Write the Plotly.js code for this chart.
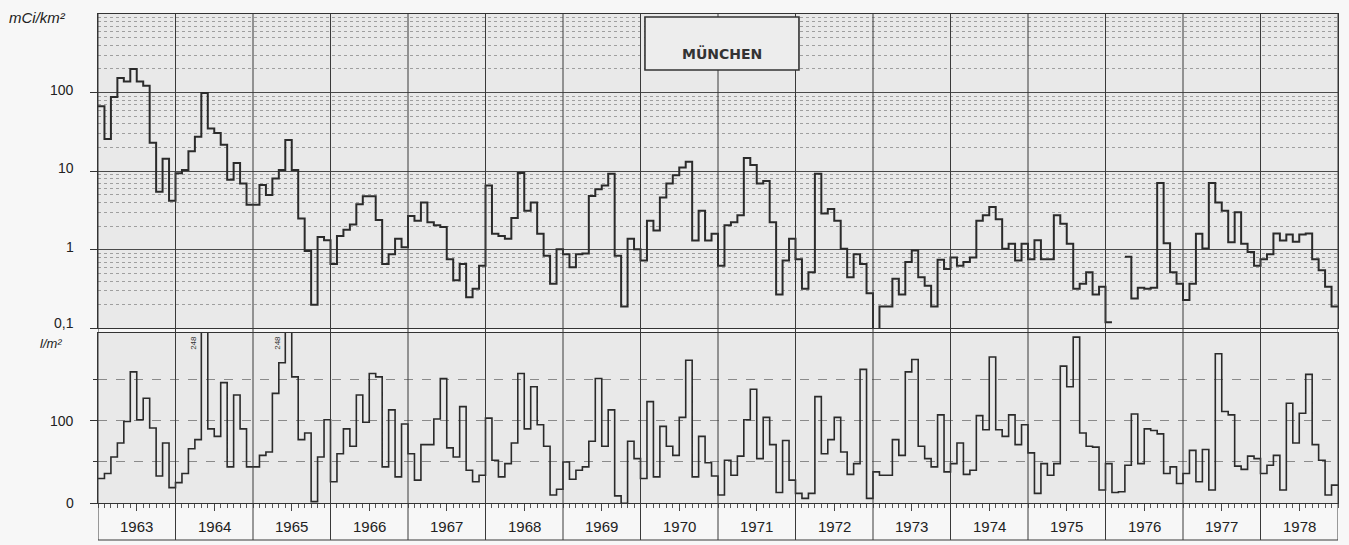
<!DOCTYPE html>
<html>
<head>
<meta charset="utf-8">
<script src="https://cdn.plot.ly/plotly-3.0.1.min.js"></script>
<style>
  html, body { margin: 0; padding: 0; background: #f7f7f7; }
  #chart { width: 1349px; height: 545px; }
</style>
</head>
<body>
<div id="chart"></div>
<script>
// Monthly series for the Munich station, 1963-1978.
const years = [1963, 1964, 1965, 1966, 1967, 1968, 1969, 1970,
               1971, 1972, 1973, 1974, 1975, 1976, 1977, 1978];

// Monthly fallout deposition, mCi/km² (null = no measurement)
const deposition = [
  [67, 25.7, 88, 154, 139, 200, 139, 122, 23, 5.5, 14.4, 4.2],
  [9.4, 10.4, 17.9, 27.4, 99, 35, 30.7, 21.8, 7.8, 12.7, 7.0, 3.75],
  [3.75, 6.7, 5.0, 8.1, 10.4, 25, 10.4, 2.5, 0.97, 0.2, 1.46, 1.33],
  [0.66, 1.5, 1.8, 2.1, 3.8, 4.8, 4.8, 2.4, 0.66, 0.88, 1.38, 1.08],
  [2.7, 2.35, 4.0, 2.25, 2.05, 1.95, 0.76, 0.41, 0.66, 0.25, 0.32, 0.63],
  [6.6, 1.6, 1.5, 1.38, 2.55, 9.5, 3.15, 4.0, 1.6, 0.84, 0.37, 1.02],
  [0.88, 0.6, 0.88, 0.9, 4.85, 5.9, 6.6, 9.3, 0.84, 0.19, 1.38, 1.02],
  [0.73, 2.35, 1.76, 4.65, 7.0, 8.9, 11.2, 13.2, 1.32, 3.15, 1.32, 1.6],
  [0.63, 2.05, 2.25, 2.75, 14.7, 12.0, 7.0, 7.5, 2.25, 0.27, 0.73, 1.38],
  [0.76, 0.32, 0.52, 9.3, 2.9, 3.3, 2.35, 1.03, 0.45, 0.88, 0.66, 0.28],
  [0.09, 0.19, 0.19, 0.43, 0.27, 0.7, 0.98, 0.45, 0.35, 0.19, 0.75, 0.57],
  [0.8, 0.63, 0.7, 0.8, 2.35, 2.75, 3.5, 2.45, 1.03, 1.2, 0.73, 1.2],
  [0.76, 1.33, 0.76, 0.76, 2.75, 2.15, 1.2, 0.32, 0.37, 0.52, 0.27, 0.34],
  [0.12, null, null, 0.82, 0.24, 0.33, 0.32, 0.33, 7.1, 1.21, 0.52, 0.37],
  [0.23, 0.37, 1.6, 1.04, 7.1, 4.0, 3.15, 1.25, 3.0, 1.2, 0.94, 0.63],
  [0.76, 0.88, 1.62, 1.32, 1.57, 1.27, 1.57, 1.62, 0.76, 0.55, 0.34, 0.19]
];

// Monthly precipitation, l/m²
const rainfall = [
  [30, 36, 56, 73, 99, 159, 101, 127, 91, 33, 73, 19],
  [25, 36, 66, 77, 248, 90, 81, 146, 44, 131, 90, 44],
  [44, 58, 62, 133, 170, 248, 153, 77, 85, 2, 56, 101],
  [26, 60, 90, 69, 131, 98, 157, 153, 44, 113, 32, 96],
  [60, 28, 71, 71, 102, 151, 67, 56, 117, 40, 26, 34],
  [103, 52, 32, 48, 73, 157, 90, 141, 95, 69, 10, 17],
  [50, 29, 40, 44, 75, 151, 69, 113, 9, 0, 75, 54],
  [30, 123, 32, 93, 69, 58, 104, 173, 32, 81, 49, 33],
  [10, 52, 34, 57, 101, 138, 54, 104, 71, 13, 76, 28],
  [12, 6, 12, 129, 60, 77, 104, 62, 35, 48, 162, 6],
  [38, 34, 34, 77, 58, 159, 174, 69, 54, 44, 107, 38],
  [48, 73, 35, 40, 106, 89, 177, 89, 81, 107, 71, 95],
  [61, 12, 48, 34, 48, 166, 141, 201, 85, 69, 68, 16],
  [48, 13, 14, 46, 108, 48, 90, 88, 84, 36, 44, 24],
  [36, 64, 26, 65, 16, 181, 111, 107, 45, 41, 57, 54],
  [36, 46, 58, 16, 121, 73, 109, 156, 71, 52, 10, 22]
];

const stationName = 'MÜNCHEN';
const depositionUnit = 'mCi/km²';
const rainfallUnit = 'l/m²';
const logTickVals = [0.1, 1, 10, 100];
const logTickText = ['0,1', '1', '10', '100'];
const rainTickVals = [0, 100];
const rainGridVals = [50, 150];
const rainTop = 206;   // months above this run off the top of the lower panel

// Each month becomes a flat step from its first to its last day.
function monthlySteps(rows) {
  const xs = [], ys = [];
  rows.forEach((row, yi) => {
    row.forEach((v, m) => {
      if (v === null) { xs.push(null); ys.push(null); return; }
      xs.push(years[yi] + m / 12, years[yi] + (m + 1) / 12);
      ys.push(v, v);
    });
  });
  return { xs, ys };
}

const dep = monthlySteps(deposition);
const rain = monthlySteps(rainfall);

// Faint minor grid on every log digit
const logMinor = [];
[0.1, 1, 10, 100].forEach(d => { for (let k = 2; k <= 9; k++) logMinor.push(d * k); });

const ink = '#2b2b2b';
const font = 'Liberation Sans, Arial, sans-serif';
const firstYear = years[0];
const lastYear = years[years.length - 1] + 1;

const traces = [
  { x: dep.xs, y: dep.ys, xaxis: 'x', yaxis: 'y', mode: 'lines',
    line: { color: ink, width: 2 }, connectgaps: false, hoverinfo: 'skip' },
  { x: rain.xs, y: rain.ys, xaxis: 'x2', yaxis: 'y2', mode: 'lines',
    line: { color: ink, width: 1.6 }, connectgaps: false, hoverinfo: 'skip' }
];

// Year separators running through both panels and the label strip
const shapes = [];
years.concat([lastYear]).forEach(yr => {
  shapes.push({ type: 'line', xref: 'x', yref: 'paper', x0: yr, x1: yr, y0: 0, y1: 1,
                line: { color: '#3a3a3a', width: 1 }, layer: 'above' });
});
shapes.push({ type: 'line', xref: 'paper', yref: 'paper', x0: 0, x1: 1, y0: 0, y1: 0,
              line: { color: '#3a3a3a', width: 1.2 } });
// Station name box
shapes.push({ type: 'rect', xref: 'paper', yref: 'paper',
              x0: 0.4411, x1: 0.5653, y0: 0.8935, y1: 0.9943,
              fillcolor: '#ededed', line: { color: '#333', width: 1.6 }, layer: 'above' });

const tickFont = { family: font, size: 14, color: '#222' };
const annotations = [
  { xref: 'paper', yref: 'paper', x: 0.503, y: 0.944, text: '<b>' + stationName + '</b>',
    showarrow: false, font: { family: 'DejaVu Sans, sans-serif', size: 14, color: '#333' } },
  { xref: 'paper', yref: 'paper', x: -0.0735, y: 0.993, xanchor: 'left', yanchor: 'middle',
    text: '<i>' + depositionUnit + '</i>', showarrow: false,
    font: { family: font, size: 15, color: '#222' } },
  { xref: 'paper', yref: 'paper', x: -0.048, y: 0.3745, xanchor: 'left', yanchor: 'middle',
    text: '<i>' + rainfallUnit + '</i>', showarrow: false,
    font: { family: font, size: 13, color: '#222' } }
];

// Axis numbers sit well clear of the frame, so they are placed as annotations
logTickVals.forEach((v, i) => annotations.push({
  xref: 'paper', yref: 'y', x: -0.0177, y: Math.log10(v), yshift: i === 0 ? 6 : 3,
  xanchor: 'right', yanchor: 'middle', text: logTickText[i], showarrow: false, font: tickFont }));
rainTickVals.forEach(v => annotations.push({
  xref: 'paper', yref: 'y2', x: -0.0177, y: v,
  xanchor: 'right', yanchor: 'middle', text: String(v), showarrow: false, font: tickFont }));
years.forEach(yr => annotations.push({
  xref: 'x2', yref: 'paper', x: yr + 0.5, y: 0.0266,
  xanchor: 'center', yanchor: 'middle', text: String(yr), showarrow: false,
  font: { family: font, size: 15, color: '#222' } }));

// Label the months whose rainfall runs past the top of the panel
rainfall.forEach((row, yi) => row.forEach((v, m) => {
  if (v !== null && v > rainTop) {
    annotations.push({ xref: 'x2', yref: 'y2', x: years[yi] + m / 12 - 0.012, y: 194,
      text: String(v), textangle: -90, showarrow: false, xanchor: 'right', yanchor: 'middle',
      font: { family: font, size: 8, color: '#333' } });
  }
}));

const layout = {
  width: 1349, height: 545,
  margin: { l: 98, r: 11, t: 14, b: 5 },
  paper_bgcolor: '#f7f7f7',
  plot_bgcolor: '#e9e9e9',
  showlegend: false,
  font: { family: font, size: 13, color: '#222' },
  xaxis: {
    domain: [0, 1], anchor: 'y', range: [firstYear, lastYear],
    showticklabels: false, ticks: '', showgrid: false, zeroline: false,
    showline: true, mirror: true, linecolor: '#333', linewidth: 1
  },
  yaxis: {
    domain: [0.4021, 1], anchor: 'x', type: 'log', range: [-1, 3],
    tickvals: logTickVals, showticklabels: false,
    ticks: 'outside', ticklen: 7, tickcolor: '#333',
    showgrid: true, gridcolor: '#4a4a4a', gridwidth: 1,
    minor: { tickvals: logMinor, showgrid: true, gridcolor: '#8c8c8c', griddash: 'dot', gridwidth: 0.8, ticks: '' },
    showline: true, mirror: true, linecolor: '#333', linewidth: 1, zeroline: false
  },
  xaxis2: {
    domain: [0, 1], anchor: 'y2', range: [firstYear, lastYear], matches: 'x',
    tickvals: years.map(y => y + 0.5), showticklabels: false,
    ticks: 'outside', ticklen: 7, tickcolor: '#444',
    minor: { tick0: firstYear, dtick: 1 / 12, ticks: 'outside', ticklen: 4, tickcolor: '#555', showgrid: false },
    showgrid: false, zeroline: false,
    showline: true, mirror: true, linecolor: '#333', linewidth: 1
  },
  yaxis2: {
    domain: [0.0698, 0.3935], anchor: 'x2', range: [0, rainTop],
    tickvals: rainTickVals, showticklabels: false,
    ticks: 'outside', ticklen: 7, tickcolor: '#333',
    showgrid: true, gridcolor: '#8a8a8a', griddash: 'dash', gridwidth: 1,
    minor: { tickvals: rainGridVals, showgrid: true, gridcolor: '#8a8a8a', griddash: 'dash', gridwidth: 1, ticks: 'outside', ticklen: 4 },
    showline: true, mirror: true, linecolor: '#333', linewidth: 1, zeroline: false
  },
  shapes: shapes,
  annotations: annotations
};

Plotly.newPlot('chart', traces, layout, { staticPlot: true, displayModeBar: false });
</script>
</body>
</html>
